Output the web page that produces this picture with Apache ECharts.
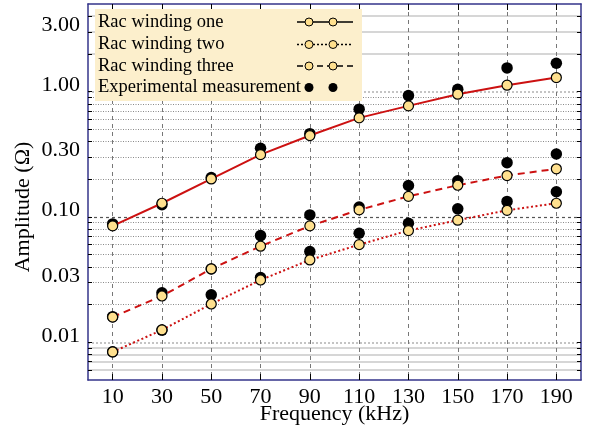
<!DOCTYPE html>
<html>
<head>
<meta charset="utf-8">
<script src="https://cdn.jsdelivr.net/npm/echarts@6/dist/echarts.min.js"></script>
<style>
html,body{margin:0;padding:0;background:#fff;}
#chart{width:597px;height:430px;}
</style>
</head>
<body>
<div id="chart"></div>
<script>
// ---- data ----
var frequencies = [10, 30, 50, 70, 90, 110, 130, 150, 170, 190];
var racOne   = [0.0848, 0.1286, 0.201, 0.314, 0.446, 0.617, 0.769, 0.953, 1.125, 1.294];
var racTwo   = [0.00837, 0.01254, 0.0202, 0.0314, 0.0454, 0.0601, 0.0778, 0.0942, 0.113, 0.1286];
var racThree = [0.0159, 0.0234, 0.0385, 0.0584, 0.0848, 0.1138, 0.146, 0.179, 0.214, 0.242];
var expOne   = [0.088, 0.125, 0.206, 0.353, 0.462, 0.724, 0.929, 1.045, 1.545, 1.685];
var expTwo   = [0.0084, 0.0125, 0.0239, 0.0328, 0.0529, 0.0741, 0.0891, 0.116, 0.133, 0.159];
var expThree = [0.016, 0.0248, 0.0385, 0.071, 0.1038, 0.12, 0.178, 0.194, 0.271, 0.318];
var xTicks = [10, 30, 50, 70, 90, 110, 130, 150, 170, 190];
var yLabels = [0.01, 0.03, 0.1, 0.3, 1, 3];
var yMinorDotted = [0.02,0.03,0.04,0.05,0.06,0.07,0.08,0.09,0.2,0.3,0.4,0.5,0.6,0.7,0.8,0.9];
var yLightSolid = [0.006,0.007,0.008,0.009,2,3,4];
var yLightDotted = [0.01, 1];
var yDarkDashed = [0.1];
var yAllTicks = [0.006,0.007,0.008,0.009,0.01,0.02,0.03,0.04,0.05,0.06,0.07,0.08,0.09,0.1,0.2,0.3,0.4,0.5,0.6,0.7,0.8,0.9,1,2,3,4];
var legendNames = ['Rac winding one', 'Rac winding two', 'Rac winding three', 'Experimental measurement'];

function pairs(xs, ys){ return xs.map(function(x,i){ return [x, ys[i]]; }); }

var FONT = '"Liberation Serif", "DejaVu Serif", serif';
var FRAME = '#34348a';
var RED = '#cc1111';
var YELLOW = '#ffe08e';

function gridAxis(values, style){
  return {
    type: 'log', logBase: 10, min: 0.005, max: 5, position: 'left',
    axisLine: {show: false}, axisLabel: {show: false},
    axisTick: {show: false, customValues: values},
    splitLine: {show: true, lineStyle: style},
    minorTick: {show: false}, minorSplitLine: {show: false}
  };
}

var chart = echarts.init(document.getElementById('chart'), null, {renderer: 'canvas'});

var lineSym = {symbol: 'circle', symbolSize: 10, itemStyle: {color: YELLOW, borderColor: '#000', borderWidth: 1.2, opacity: 1}};
function lineSeries(name, data, type){
  return Object.assign({
    name: name, type: 'line', data: pairs(frequencies, data), smooth: false,
    lineStyle: {color: RED, width: 2, type: type}, z: 5, animation: false
  }, lineSym);
}
function expSeries(data){
  return {
    name: 'Experimental measurement', type: 'scatter', data: pairs(frequencies, data),
    symbol: 'circle', symbolSize: 11.5, itemStyle: {color: '#000', opacity: 1}, z: 3, animation: false
  };
}

// legend drawn with graphic elements
var legendX = 95, legendY = 9, rowY = [22, 44.5, 66, 87.5];
var legendGraphics = [{
  type: 'rect', shape: {x: legendX, y: legendY, width: 267, height: 92},
  style: {fill: '#fcefcc'}, z: 50
}];
legendNames.forEach(function(n, i){
  legendGraphics.push({
    type: 'text', x: 98, y: rowY[i], z: 51,
    style: {text: n, font: '18.5px ' + FONT, fill: '#000', textVerticalAlign: 'middle', textAlign: 'left'}
  });
});
var dashTypes = [null, [2, 2], [6, 4]];
for (var i = 0; i < 3; i++) {
  legendGraphics.push({
    type: 'line', z: 51, shape: {x1: 297, y1: rowY[i], x2: 353, y2: rowY[i]},
    style: {stroke: '#000', lineWidth: 1.3, lineDash: dashTypes[i]}
  });
  [309, 333].forEach(function(cx){
    legendGraphics.push({type: 'circle', z: 52, shape: {cx: cx, cy: rowY[i], r: 4},
      style: {fill: YELLOW, stroke: '#000', lineWidth: 1}});
  });
}
[309, 333].forEach(function(cx){
  legendGraphics.push({type: 'circle', z: 52, shape: {cx: cx, cy: rowY[3], r: 4.5}, style: {fill: '#000'}});
});
legendGraphics.push({
  type: 'text', x: 23, y: 207, rotation: Math.PI / 2, z: 51,
  style: {text: 'Amplitude (Ω)', font: '22px ' + FONT, fill: '#000', textAlign: 'center', textVerticalAlign: 'middle'}
});

var option = {
  backgroundColor: '#fff',
  animation: false,
  grid: {left: 88, right: 16, top: 4, bottom: 50, containLabel: false, outerBoundsMode: 'none'},
  xAxis: [{
    type: 'value', min: 0, max: 200, position: 'bottom',
    name: 'Frequency (kHz)', nameLocation: 'middle', nameGap: 23, nameMoveOverlap: false,
    nameTextStyle: {fontFamily: FONT, fontSize: 22, color: '#000'},
    axisLine: {show: true, lineStyle: {color: FRAME, width: 1.5}},
    axisTick: {show: true, inside: true, length: 6, customValues: xTicks, lineStyle: {color: '#000', width: 1}},
    axisLabel: {show: true, customValues: xTicks, fontFamily: FONT, fontSize: 22, color: '#000', margin: 6},
    splitLine: {show: true, lineStyle: {color: '#777', width: 1, type: [4, 4]}}
  }, {
    type: 'value', min: 0, max: 200, position: 'top',
    axisLine: {show: true, lineStyle: {color: FRAME, width: 1.5}},
    axisTick: {show: true, inside: true, length: 6, customValues: xTicks, lineStyle: {color: '#000', width: 1}},
    axisLabel: {show: false}, splitLine: {show: false}
  }],
  yAxis: [{
    type: 'log', logBase: 10, min: 0.005, max: 5, position: 'left',
    axisLine: {show: true, lineStyle: {color: FRAME, width: 1.5}},
    axisTick: {show: true, inside: true, length: 4, customValues: yAllTicks, lineStyle: {color: '#000', width: 1}},
    axisLabel: {show: true, customValues: yLabels, fontFamily: FONT, fontSize: 22, color: '#000', margin: 8,
      verticalAlign: 'bottom', lineHeight: 13,
      formatter: function(v){ return Number(v).toFixed(2); }},
    splitLine: {show: false}
  },
  gridAxis(yMinorDotted, {color: '#8a8a8a', width: 1, type: [1, 1.5]}),
  gridAxis(yLightSolid, {color: '#d6d6d6', width: 2, type: 'solid'}),
  gridAxis(yLightDotted, {color: '#c4c4c4', width: 2, type: [2, 2]}),
  gridAxis(yDarkDashed, {color: '#555', width: 1.2, type: [3, 3]}),
  {
    type: 'log', logBase: 10, min: 0.005, max: 5, position: 'right',
    axisLine: {show: true, lineStyle: {color: FRAME, width: 1.5}},
    axisTick: {show: true, inside: true, length: 4, customValues: yAllTicks, lineStyle: {color: '#000', width: 1}},
    axisLabel: {show: false}, splitLine: {show: false}
  }],
  graphic: legendGraphics,
  series: [
    expSeries(expOne), expSeries(expTwo), expSeries(expThree),
    lineSeries('Rac winding one', racOne, 'solid'),
    lineSeries('Rac winding two', racTwo, [2, 2.5]),
    lineSeries('Rac winding three', racThree, [7, 5])
  ]
};
chart.setOption(option);
</script>
</body>
</html>
